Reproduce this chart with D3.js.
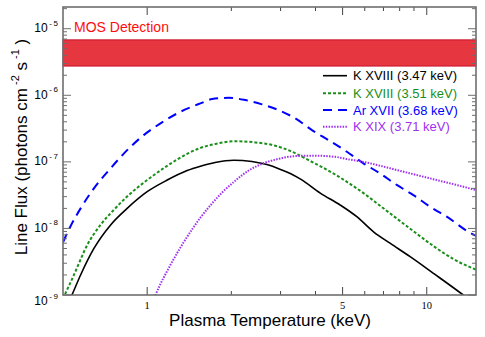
<!DOCTYPE html>
<html><head><meta charset="utf-8">
<script src="https://cdn.jsdelivr.net/npm/d3@7"></script>
<style>html,body{margin:0;padding:0;background:#fff;}svg{display:block;}</style>
</head><body>
<svg id="chart" width="485" height="337"></svg>
<script>
// ---- data (plasma temperature keV, line flux photons cm^-2 s^-1) ----
const kxviii347 = [[0.53,0.87e-9],[0.537,0.98e-9],[0.578,2.0e-9],[0.645,5.0e-9],[0.74,1.13e-8],[0.848,2.0e-8],[1.0,3.56e-8],[1.18,5.33e-8],[1.39,7.4e-8],[1.55,8.6e-8],[1.75,9.8e-8],[2.04,1.06e-7],[2.37,1.01e-7],[2.68,9.1e-8],[3.0,7.7e-8],[3.25,6.7e-8],[3.55,5.45e-8],[4.16,3.4e-8],[4.9,2.25e-8],[5.62,1.5e-8],[6.45,8.9e-9],[7.39,6.0e-9],[8.72,3.76e-9],[10.56,2.12e-9],[11.15,1.8e-9],[13.5,1.0e-9],[14.0,0.89e-9]];
const kxviii351 = [[0.5,0.88e-9],[0.547,2.0e-9],[0.61,5.6e-9],[0.681,1.13e-8],[0.76,1.9e-8],[0.848,3.02e-8],[1.0,5.33e-8],[1.179,8.7e-8],[1.389,1.32e-7],[1.55,1.62e-7],[1.754,1.86e-7],[2.067,2.04e-7],[2.437,1.96e-7],[2.872,1.75e-7],[3.295,1.42e-7],[3.78,1.06e-7],[4.22,8.32e-8],[4.704,6.46e-8],[5.18,5.01e-8],[5.94,3.39e-8],[6.81,2.19e-8],[7.81,1.41e-8],[9.21,8.32e-9],[10.86,5.01e-9],[12.45,3.47e-9],[15,2.4e-9]];
const arxvii368 = [[0.5,6.2e-9],[0.532,1.08e-8],[0.578,2.0e-8],[0.645,4.0e-8],[0.74,8.0e-8],[0.848,1.5e-7],[0.972,2.52e-7],[1.116,3.79e-7],[1.315,5.65e-7],[1.55,7.55e-7],[1.707,8.77e-7],[1.956,9.17e-7],[2.244,8.47e-7],[2.575,7.3e-7],[2.951,6.0e-7],[3.385,4.5e-7],[3.884,3.0e-7],[4.452,2.12e-7],[5.179,1.42e-7],[5.936,9.5e-8],[6.81,6.7e-8],[7.81,4.5e-8],[8.956,3.17e-8],[10.27,2.12e-8],[11.79,1.5e-8],[14.08,8.9e-9],[15,7.7e-9]];
const kxix371 = [[1.06,0.9e-9],[1.071,1.0e-9],[1.211,2.82e-9],[1.351,6.21e-9],[1.467,1.05e-8],[1.55,1.45e-8],[1.728,2.52e-8],[1.853,3.45e-8],[2.067,5.22e-8],[2.306,7.41e-8],[2.575,9.33e-8],[2.951,1.11e-7],[3.385,1.22e-7],[3.884,1.24e-7],[4.704,1.19e-7],[5.179,1.10e-7],[5.936,1.0e-7],[6.81,8.74e-8],[7.81,7.54e-8],[9.21,6.34e-8],[10.86,5.33e-8],[12.8,4.49e-8],[15,3.77e-8]];

const seriesLabels = ["K XVIII (3.47 keV)","K XVIII (3.51 keV)","Ar XVII (3.68 keV)","K XIX (3.71 keV)"];
const seriesColors = ["#000000","#1a8f1a","#0000ff","#a030f0"];
const seriesDash = [null,"3,2","9,6","1.5,1.3"];
const seriesWidth = [1.6,2,2,2];
const seriesData = [kxviii347,kxviii351,arxvii368,kxix371];

const mosBand = [2.75e-6, 6.8e-6];
const mosLabel = "MOS Detection";

const xDomain = [0.5, 15];
const yDomain = [1e-9, 2.12e-5];
const xMajorTicks = [1,5,10];
const xMinorTicks = [2,3,4,6,7,8,9];
const yMajorExps = [-9,-8,-7,-6,-5];

// ---- layout ----
const W = 485, H = 337;
const m = {left:63, top:7, right:9, bottom:42};
const iw = W - m.left - m.right, ih = H - m.top - m.bottom;
const svg = d3.select("#chart");
const x = d3.scaleLog().domain(xDomain).range([0, iw]);
const y = d3.scaleLog().domain(yDomain).range([ih, 0]);
const g = svg.append("g").attr("transform",`translate(${m.left},${m.top})`);

svg.append("defs").append("clipPath").attr("id","clip")
  .append("rect").attr("width",iw).attr("height",ih);

// MOS band
g.append("rect").attr("x",0).attr("width",iw)
  .attr("y",y(mosBand[1])).attr("height",y(mosBand[0])-y(mosBand[1]))
  .attr("fill","#e6363f").attr("stroke","#c8102a").attr("stroke-width",1);
g.append("text").attr("x",11).attr("y",24.7).text(mosLabel)
  .attr("font-family","Liberation Sans, Arial, sans-serif").attr("font-size",14)
  .attr("fill","#ff0d0d");

// curves
const line = d3.line().x(d=>x(d[0])).y(d=>y(d[1])).curve(d3.curveMonotoneX);
const cg = g.append("g").attr("clip-path","url(#clip)");
seriesData.forEach((s,i)=>{
  cg.append("path").datum(s).attr("d",line).attr("fill","none")
    .attr("stroke",seriesColors[i]).attr("stroke-width",seriesWidth[i])
    .attr("stroke-dasharray",seriesDash[i]);
});

// frame + ticks
const axisColor = "#6e6e6e";
const tk = g.append("g").attr("stroke",axisColor).attr("stroke-width",1);
xMajorTicks.forEach(v=>{
  tk.append("line").attr("x1",x(v)).attr("x2",x(v)).attr("y1",ih).attr("y2",ih-8).attr("stroke","#444");
  tk.append("line").attr("x1",x(v)).attr("x2",x(v)).attr("y1",0).attr("y2",8).attr("stroke","#444");
});
xMinorTicks.forEach(v=>{
  tk.append("line").attr("x1",x(v)).attr("x2",x(v)).attr("y1",ih).attr("y2",ih-4).attr("stroke","#444");
  tk.append("line").attr("x1",x(v)).attr("x2",x(v)).attr("y1",0).attr("y2",4).attr("stroke","#444");
});
yMajorExps.forEach(e=>{
  const v = Math.pow(10,e);
  tk.append("line").attr("x1",0).attr("x2",8).attr("y1",y(v)).attr("y2",y(v));
  tk.append("line").attr("x1",iw).attr("x2",iw-8).attr("y1",y(v)).attr("y2",y(v));
  for(let k=2;k<=9;k++){
    const mv = k*v;
    if(mv>yDomain[1]) break;
    tk.append("line").attr("x1",0).attr("x2",4).attr("y1",y(mv)).attr("y2",y(mv));
    tk.append("line").attr("x1",iw).attr("x2",iw-4).attr("y1",y(mv)).attr("y2",y(mv));
  }
});
g.append("rect").attr("width",iw).attr("height",ih).attr("fill","none")
  .attr("stroke",axisColor).attr("stroke-width",1.6);

// x tick labels
xMajorTicks.forEach(v=>{
  g.append("text").attr("x",x(v)).attr("y",ih+13.5).attr("text-anchor","middle")
    .attr("font-family","Liberation Serif, Times New Roman, serif").attr("font-size",10.5)
    .attr("fill","#000").text(v);
});
// y tick labels
yMajorExps.forEach(e=>{
  const v = Math.pow(10,e);
  const off = (e===yMajorExps[0]) ? 10 : 3.4;
  const t = g.append("text").attr("x",-5).attr("y",y(v)+off).attr("text-anchor","end")
    .attr("font-family","Liberation Sans, Arial, sans-serif").attr("font-size",12).attr("fill","#000");
  t.append("tspan").text("10");
  t.append("tspan").attr("dy",-6.5).attr("font-size",8).text("\u2009"+ "-" + "\u2009" + Math.abs(e));
});

// axis titles
svg.append("text").attr("x",270).attr("y",325.5).attr("text-anchor","middle")
  .attr("font-family","Liberation Sans, Arial, sans-serif").attr("font-size",17)
  .attr("fill","#000").text("Plasma Temperature (keV)");
const yl = svg.append("text").attr("transform","translate(27,147) rotate(-90)")
  .attr("text-anchor","middle").attr("font-family","Liberation Sans, Arial, sans-serif")
  .attr("font-size",17).attr("fill","#000");
yl.append("tspan").text("Line Flux  (photons cm");
yl.append("tspan").attr("dy",-8).attr("font-size",11).text(" -2");
yl.append("tspan").attr("dy",8).text(" s");
yl.append("tspan").attr("dy",-8).attr("font-size",11).text(" -1");
yl.append("tspan").attr("dy",8).text(" )");

// legend
const lg = svg.append("g");
const rowsY = [75.7, 93.2, 110, 126.7];
seriesLabels.forEach((lab,i)=>{
  lg.append("line").attr("x1",323).attr("x2",347).attr("y1",rowsY[i]).attr("y2",rowsY[i])
    .attr("stroke",seriesColors[i]).attr("stroke-width",seriesWidth[i])
    .attr("stroke-dasharray",seriesDash[i]);
  lg.append("text").attr("x",353).attr("y",rowsY[i]+4.6)
    .attr("font-family","Liberation Sans, Arial, sans-serif").attr("font-size",13)
    .attr("fill",seriesColors[i]).text(lab);
});
</script>
</body></html>
